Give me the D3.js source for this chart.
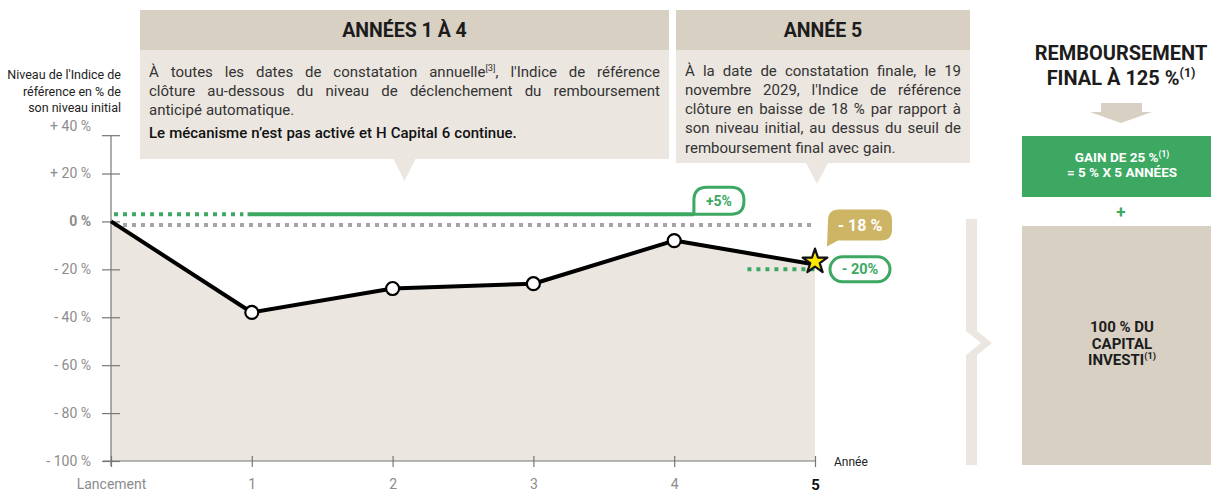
<!DOCTYPE html>
<html lang="fr">
<head>
<meta charset="UTF-8">
<title>Scénario médian</title>
<script src="https://d3js.org/d3.v7.min.js"></script>
<style>
  body { margin: 0; background: #fff; }
  svg { display: block; font-family: Roboto, "Liberation Sans", sans-serif; }
</style>
</head>
<body>
<svg id="chart" width="1211" height="493"></svg>
<script>
// ---- data ----
const years = [0, 1, 2, 3, 4, 5];
const yearLabels = ["Lancement", "1", "2", "3", "4", "5"];
const indexLevels = [0, -38, -28, -26, -8, -18];
const yTicks = [40, 20, 0, -20, -40, -60, -80, -100];
const yTickLabels = ["+ 40 %", "+ 20 %", "0 %", "- 20 %", "- 40 %", "- 60 %", "- 80 %", "- 100 %"];
const yTitle = ["Niveau de l'Indice de", "référence en % de", "son niveau initial"];
const couponLine = 3;      // level where the "+5%" line is drawn
const initialLine = -1.5;  // grey dotted line (initial level)
const finalBarrier = -20;
const couponLabel = "+5%";
const finalLabel = "- 18 %";
const barrierLabel = "- 20%";

const box1Title = "ANNÉES 1 À 4";
const box1Lines = [
  { t: "À toutes les dates de constatation annuelle^{[3]}, l'Indice de référence", j: true },
  { t: "clôture au-dessous du niveau de déclenchement du remboursement", j: true },
  { t: "anticipé automatique.", j: false },
  { t: "Le mécanisme n’est pas activé et H Capital 6 continue.", j: false, b: true }
];
const box2Title = "ANNÉE 5";
const box2Lines = [
  { t: "À la date de constatation finale, le 19", j: true },
  { t: "novembre 2029, l'Indice de référence", j: true },
  { t: "clôture en baisse de 18 % par rapport à", j: true },
  { t: "son niveau initial, au dessus du seuil de", j: true },
  { t: "remboursement final avec gain.", j: false }
];
const rightTitle = ["REMBOURSEMENT", "FINAL À 125 %^{(1)}"];
const gainLines = ["GAIN DE 25 %^{(1)}", "= 5 % X 5 ANNÉES"];
const capitalLines = ["100 % DU", "CAPITAL", "INVESTI^{(1)}"];

// ---- setup ----
const C = {
  tan: "#d9d0c4", light: "#ebe6e0", green: "#3ca862", gold: "#cdb565",
  grey: "#8c8c8c", dots: "#a5a5a5", ink: "#1c1c1c", text: "#333"
};
const svg = d3.select("#chart");
const x = d3.scaleLinear().domain([0, 5]).range([111, 815]);
const y = d3.scaleLinear().domain([-100, 40]).range([461, 125.6]);

// text with ^{...} superscripts
function rich(t, str, size) {
  const parts = str.split(/(\^\{[^}]*\})/);
  let up = false;
  parts.forEach(p => {
    if (!p) return;
    if (p.startsWith("^{")) {
      t.append("tspan").attr("font-size", size * 0.62).attr("dy", -size * 0.38).text(p.slice(2, -1));
      up = true;
    } else {
      const s = t.append("tspan").text(p);
      if (up) { s.attr("dy", size * 0.38); up = false; }
    }
  });
  return t;
}

// lays out one line word by word, justified or not
function textLine(g, line, x0, x1, yb, size) {
  const words = line.t.split(" ");
  const nodes = words.map(w => rich(g.append("text")
      .attr("y", yb)
      .attr("font-size", size)
      .attr("font-weight", line.b ? 500 : 400)
      .attr("fill", line.b ? "#111" : C.text), w, size));
  const widths = nodes.map(n => n.node().getComputedTextLength());
  const gap = line.j ? (x1 - x0 - d3.sum(widths)) / (words.length - 1) : size * 0.27;
  let cx = x0;
  nodes.forEach((n, i) => { n.attr("x", cx); cx += widths[i] + gap; });
}

// ---- boxes on top ----
function infoBox(x0, w, title, lines, headBottom, bottom, tipX, tipY, firstBase) {
  const g = svg.append("g");
  g.append("rect").attr("x", x0).attr("y", 10).attr("width", w).attr("height", headBottom - 10).attr("fill", C.tan);
  g.append("rect").attr("x", x0).attr("y", headBottom).attr("width", w).attr("height", bottom - headBottom).attr("fill", C.light);
  g.append("path").attr("d", `M${tipX - 11},${bottom}L${tipX + 11},${bottom}L${tipX},${tipY}Z`).attr("fill", C.light);
  g.append("text").attr("x", x0 + w / 2).attr("y", 37).attr("text-anchor", "middle")
    .attr("font-size", 19.5).attr("font-weight", "bold").attr("fill", C.ink).text(title);
  lines.forEach((l, i) => {
    const extra = l.b ? 4 : 0;
    textLine(g, l, x0 + 9, x0 + w - 9, firstBase + i * 19.3 + extra, 15);
  });
}
infoBox(140, 529, box1Title, box1Lines, 50, 159, 404.5, 181, 76.5);
infoBox(676, 294, box2Title, box2Lines, 50, 163, 817, 184, 75.5);

// ---- chart ----
svg.append("path").datum(years)
  .attr("d", d3.area().x(d => x(d)).y0(y(-100)).y1((d, i) => y(indexLevels[i])))
  .attr("fill", C.light);

// y axis
svg.append("line").attr("x1", x(0)).attr("x2", x(0)).attr("y1", y(36)).attr("y2", y(-100) + 5)
  .attr("stroke", "#777").attr("stroke-width", 1.2);
const yAxis = svg.append("g").attr("transform", `translate(${x(0)},0)`)
  .call(d3.axisLeft(y).tickValues(yTicks).tickFormat((d, i) => yTickLabels[i])
    .tickSize(9).tickSizeOuter(0).tickPadding(11));
yAxis.attr("font-family", null).attr("font-size", 14);
yAxis.select(".domain").remove();
yAxis.selectAll(".tick line").attr("x1", 9).attr("stroke", "#777").attr("stroke-width", 1.2);
yAxis.selectAll(".tick").filter(d => d === 40).select("line")
  .attr("transform", `translate(0,${y(36) - y(40)})`);
yAxis.selectAll(".tick text").attr("fill", C.grey)
  .attr("font-weight", d => d === 0 ? "bold" : null);

yTitle.forEach((t, i) => {
  svg.append("text").attr("x", 121).attr("y", 79 + i * 16.5).attr("text-anchor", "end")
    .attr("font-size", 12.5).attr("fill", "#222").text(t);
});

// x axis
svg.append("line").attr("x1", x(0) - 8).attr("x2", x(5)).attr("y1", y(-100)).attr("y2", y(-100))
  .attr("stroke", "#777").attr("stroke-width", 1.2);
const xAxis = svg.append("g").attr("transform", `translate(0,${y(-100)})`)
  .call(d3.axisBottom(x).tickValues(years).tickFormat((d, i) => yearLabels[i])
    .tickSize(6).tickSizeOuter(0).tickPadding(12));
xAxis.attr("font-family", null).attr("font-size", 14);
xAxis.select(".domain").remove();
xAxis.selectAll(".tick line").attr("y1", -5).attr("stroke", "#777").attr("stroke-width", 1.2);
xAxis.selectAll(".tick text").attr("fill", d => d === 5 ? "#111" : C.grey)
  .attr("font-weight", d => d === 5 ? "bold" : null)
  .attr("font-size", d => d === 5 ? 15 : 14);
svg.append("text").attr("x", 834).attr("y", y(-100) + 4.5).attr("font-size", 12)
  .attr("fill", "#222").text("Année");

// reference lines
const dash = "4,5";
svg.append("line").attr("x1", x(0) + 3).attr("x2", x(5)).attr("y1", y(initialLine)).attr("y2", y(initialLine))
  .attr("stroke", C.dots).attr("stroke-width", 4).attr("stroke-dasharray", dash);
svg.append("line").attr("x1", x(0) + 3).attr("x2", x(0.94)).attr("y1", y(couponLine)).attr("y2", y(couponLine))
  .attr("stroke", C.green).attr("stroke-width", 4).attr("stroke-dasharray", dash);
svg.append("line").attr("x1", x(0.97)).attr("x2", x(4.14)).attr("y1", y(couponLine)).attr("y2", y(couponLine))
  .attr("stroke", C.green).attr("stroke-width", 4);
svg.append("line").attr("x1", x(4.52)).attr("x2", x(5)).attr("y1", y(finalBarrier)).attr("y2", y(finalBarrier))
  .attr("stroke", C.green).attr("stroke-width", 4).attr("stroke-dasharray", dash);

// index path
svg.append("path").datum(years)
  .attr("d", d3.line().x(d => x(d)).y((d, i) => y(indexLevels[i])))
  .attr("fill", "none").attr("stroke", "#000").attr("stroke-width", 4).attr("stroke-linejoin", "round");
svg.selectAll("circle.pt").data(years.slice(1, 5)).join("circle").attr("class", "pt")
  .attr("cx", d => x(d)).attr("cy", d => y(indexLevels[d])).attr("r", 6.5)
  .attr("fill", "#fff").attr("stroke", "#000").attr("stroke-width", 2.2);
svg.append("path").attr("d", d3.symbol(d3.symbolStar).size(190))
  .attr("transform", `translate(${x(5)},${y(indexLevels[5]) - 3})`)
  .attr("fill", "#ffe600").attr("stroke", "#111").attr("stroke-width", 2.2).attr("stroke-linejoin", "round");

// bubbles: rounded rect with sharp (or tailed) bottom-left corner
function bubblePath(x0, y0, w, h, r, tail) {
  const x1 = x0 + w, y1 = y0 + h;
  return `M${x0},${y0 + r}Q${x0},${y0} ${x0 + r},${y0}L${x1 - r},${y0}Q${x1},${y0} ${x1},${y0 + r}` +
    `L${x1},${y1 - r}Q${x1},${y1} ${x1 - r},${y1}` + (tail ? `L${x0 + 10},${y1}L${x0 - 1},${y1 + tail}` : `L${x0},${y1}`) + "Z";
}
const cx0 = x(4.14), cy1 = y(couponLine);
svg.append("path").attr("d", bubblePath(cx0, cy1 - 27, 50, 27, 13))
  .attr("fill", "#fff").attr("stroke", C.green).attr("stroke-width", 3);
svg.append("text").attr("x", cx0 + 25).attr("y", cy1 - 8.5).attr("text-anchor", "middle")
  .attr("font-size", 14).attr("font-weight", "bold").attr("fill", C.green).text(couponLabel);

const fx0 = x(5) + 13, fy0 = y(indexLevels[5]) - 55;
svg.append("path").attr("d", bubblePath(fx0, fy0, 64, 31, 11, 6)).attr("fill", C.gold);
svg.append("text").attr("x", fx0 + 32).attr("y", fy0 + 21.5).attr("text-anchor", "middle")
  .attr("font-size", 16).attr("font-weight", "bold").attr("fill", "#fff").text(finalLabel);

const bx0 = x(5) + 15, by = y(finalBarrier);
svg.append("rect").attr("x", bx0).attr("y", by - 12.5).attr("width", 60).attr("height", 25).attr("rx", 12.5)
  .attr("fill", "#fff").attr("stroke", C.green).attr("stroke-width", 3);
svg.append("text").attr("x", bx0 + 30).attr("y", by + 5).attr("text-anchor", "middle")
  .attr("font-size", 14.5).attr("font-weight", "bold").attr("fill", C.green).text(barrierLabel);

// ---- right panel ----
svg.append("path")
  .attr("d", "M966,219L977,219L977,331L992,343L977,355L977,465L966,465L966,355L981,343L966,331Z")
  .attr("fill", C.light);

rightTitle.forEach((t, i) => {
  rich(svg.append("text").attr("x", 1121).attr("y", 60 + i * 25).attr("text-anchor", "middle")
    .attr("font-size", 20).attr("font-weight", "bold").attr("fill", C.ink), t, 20);
});
svg.append("path").attr("d", "M1101,103L1142,103L1142,112L1152,112L1121,123L1090,112L1101,112Z").attr("fill", C.tan);

svg.append("rect").attr("x", 1022).attr("y", 136).attr("width", 189).attr("height", 61).attr("fill", C.green);
gainLines.forEach((t, i) => {
  rich(svg.append("text").attr("x", 1122).attr("y", 162 + i * 15).attr("text-anchor", "middle")
    .attr("font-size", 13.5).attr("font-weight", "bold").attr("fill", "#fff"), t, 13.5);
});
svg.append("text").attr("x", 1121).attr("y", 218).attr("text-anchor", "middle")
  .attr("font-size", 17).attr("font-weight", "bold").attr("fill", C.green).text("+");

svg.append("rect").attr("x", 1022).attr("y", 226).attr("width", 189).attr("height", 239).attr("fill", C.tan);
capitalLines.forEach((t, i) => {
  rich(svg.append("text").attr("x", 1122).attr("y", 332 + i * 16.5).attr("text-anchor", "middle")
    .attr("font-size", 15).attr("font-weight", "bold").attr("fill", C.ink), t, 15);
});
</script>
</body>
</html>
